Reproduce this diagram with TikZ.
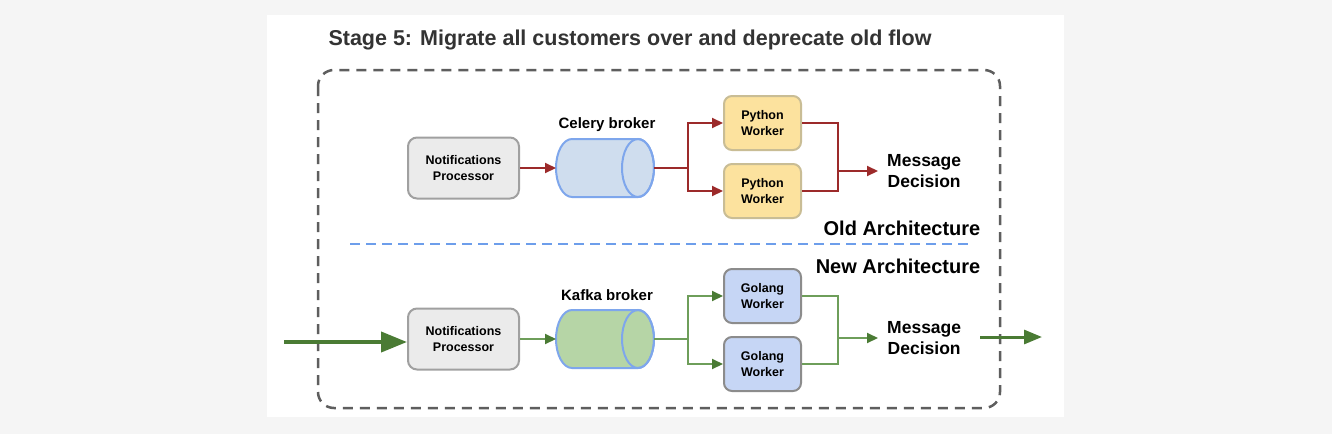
\documentclass[tikz,border=0pt]{standalone}
\usepackage{fontspec}
\setmainfont{Liberation Sans}
\usetikzlibrary{arrows.meta}
\definecolor{bgg}{HTML}{F5F5F5}
\definecolor{titlec}{HTML}{333333}
\definecolor{procfill}{HTML}{EBEBEB}
\definecolor{procdraw}{HTML}{A0A0A0}
\definecolor{celfill}{HTML}{CFDDEE}
\definecolor{cylblue}{HTML}{7EA6EC}
\definecolor{kaffill}{HTML}{B6D5A6}
\definecolor{pyfill}{HTML}{FCE29E}
\definecolor{pydraw}{HTML}{C9BD95}
\definecolor{gofill}{HTML}{C6D6F5}
\definecolor{godraw}{HTML}{8C8C8C}
\definecolor{redc}{HTML}{9C2A2A}
\definecolor{greenc}{HTML}{6E9E5A}
\definecolor{greend}{HTML}{4A7B34}
\definecolor{dashg}{HTML}{5E5E5E}
\definecolor{bluedash}{HTML}{6D9EEB}
\tikzset{
  procbox/.style={draw=procdraw,fill=procfill,line width=2pt,rounded corners=9pt,minimum width=111pt,minimum height=61pt,align=center,font=\bfseries\fontsize{12.5}{16}\selectfont},
  pybox/.style={draw=pydraw,fill=pyfill,line width=2pt,rounded corners=8pt,minimum width=77pt,minimum height=54pt,align=center,font=\bfseries\fontsize{12.5}{16}\selectfont},
  gobox/.style={pybox,draw=godraw,fill=gofill},
  cylnode/.style={rectangle,minimum width=98pt,minimum height=58pt,inner sep=0pt,outer sep=0pt},
  lbl/.style={font=\bfseries\fontsize{15}{18}\selectfont},
  dec/.style={align=center,font=\bfseries\fontsize{17.5}{21}\selectfont,inner xsep=9pt,inner ysep=2pt},
  arch/.style={font=\bfseries\fontsize{20}{24}\selectfont},
  redln/.style={draw=redc,line width=2pt},
  grnln/.style={draw=greenc,line width=2pt},
  redar/.style={redln,-{Triangle[length=11pt,width=10pt]}},
  grnar/.style={grnln,-{Triangle[length=11pt,width=10pt,fill=greend,color=greend]}},
}
\newcommand\mycyl[2]{%
  \path[draw=cylblue,line width=2pt,fill=#2] ([xshift=16pt]#1.north west) -- ([xshift=-16pt]#1.north east)
    arc[start angle=90,end angle=-90,x radius=16pt,y radius=29pt]
    -- ([xshift=16pt]#1.south west)
    arc[start angle=270,end angle=90,x radius=16pt,y radius=29pt] -- cycle;
  \draw[cylblue,line width=2pt] ([xshift=-16pt]#1.east) ellipse[x radius=16pt,y radius=29pt];}
\begin{document}
\begin{tikzpicture}[x=1pt,y=-1pt]
\useasboundingbox (0,0) rectangle (1332,434);
\fill[bgg] (0,0) rectangle (1332,434);
\fill[white] (267,15) rectangle (1064,417);
\node[text=titlec,font=\bfseries\fontsize{21.5}{26}\selectfont,anchor=west] (title) at (325,40) {Stage 5: Migrate all customers over and deprecate old flow};
\draw[dashg,line width=2.5pt,dash pattern=on 10pt off 7pt,rounded corners=16pt] (318,70) rectangle (1000,408);
\draw[bluedash,line width=2.5pt,dash pattern=on 10pt off 6pt] (350,244) -- (968,244);
% old
\node[procbox] (p1) at (463.5,168) {Notifications\\Processor};
\node[cylnode] (c1) at (605,168) {};
\mycyl{c1}{celfill}
\node[lbl] (c1l) at (607,125) {Celery broker};
\node[pybox] (w1) at (762.5,123) {Python\\Worker};
\node[pybox] (w2) at (762.5,191) {Python\\Worker};
\node[dec,anchor=west] (m1) at (878,171) {Message\\Decision};
\node[arch] (oa) at (902,228) {Old Architecture};
\coordinate (b1) at (688,168);
\coordinate (j1) at (838,171);
\draw[redar] (p1) -- (c1);
\draw[redln] (c1.east) -- (b1);
\draw[redar] (b1) |- (w1.west);
\draw[redar] (b1) |- (w2.west);
\draw[redln] (w1.east) -| (j1);
\draw[redln] (w2.east) -| (j1);
\draw[redar] (j1) -- (m1.west);
% new
\node[arch] (na) at (898,266) {New Architecture};
\node[procbox] (p2) at (463.5,339) {Notifications\\Processor};
\node[cylnode] (c2) at (605,339) {};
\mycyl{c2}{kaffill}
\node[lbl] (c2l) at (607,295) {Kafka broker};
\node[gobox] (g1) at (762.5,296) {Golang\\Worker};
\node[gobox] (g2) at (762.5,364) {Golang\\Worker};
\node[dec,anchor=west] (m2) at (878,338) {Message\\Decision};
\coordinate (b2) at (688,339);
\coordinate (j2) at (838,338);
\coordinate (in) at (284,342);
\coordinate (out) at (1042,337);
\coordinate (outs) at (980,337);
\draw[greend,line width=4pt,-{Triangle[length=26pt,width=20pt]}] (in) -- (p2.west|-in);
\draw[grnar] (p2) -- (c2);
\draw[grnln] (c2.east) -- (b2);
\draw[grnar] (b2) |- (g1.west);
\draw[grnar] (b2) |- (g2.west);
\draw[grnln] (g1.east) -| (j2);
\draw[grnln] (g2.east) -| (j2);
\draw[grnar] (j2) -- (m2.west);
\draw[greend,line width=3pt,-{Triangle[length=18pt,width=14pt]}] (outs) -- (out);
\end{tikzpicture}
\end{document}
